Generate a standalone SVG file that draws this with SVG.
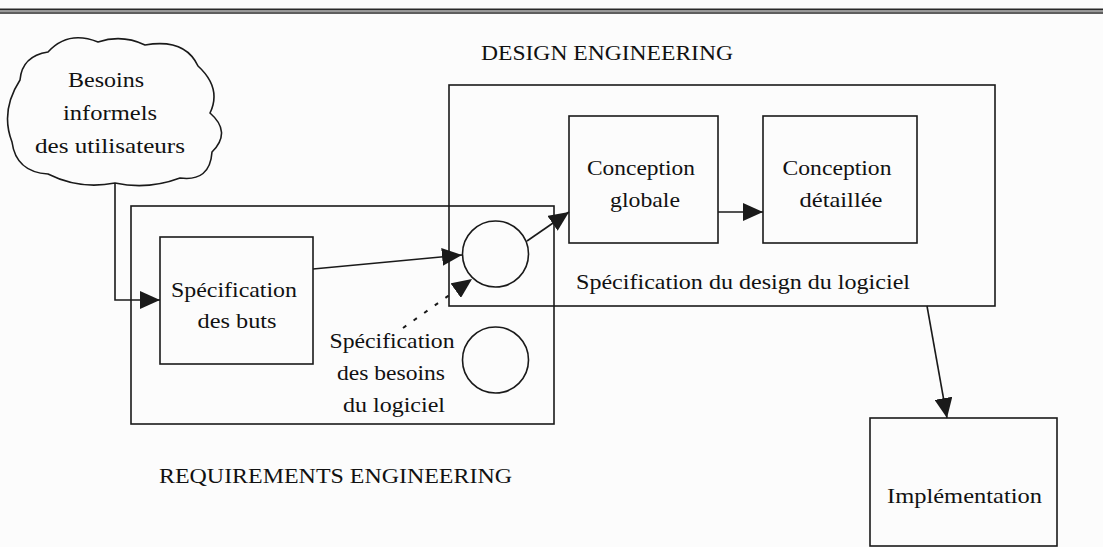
<svg xmlns="http://www.w3.org/2000/svg" width="1103" height="547" viewBox="0 0 1103 547">
  <style>
    .box { fill: none; stroke: #1a1a1a; stroke-width: 1.6; }
    .lbl { font-family: "Liberation Serif", "Times New Roman", serif; font-size: 22px; fill: #111; text-anchor: middle; }
    .cap { font-family: "Liberation Serif", "Times New Roman", serif; font-size: 22px; fill: #111; }
    .wire { fill: none; stroke: #1a1a1a; stroke-width: 1.6; marker-end: url(#head); }
    .dots { stroke-dasharray: 4 9; stroke-width: 2; }
  </style>
  <defs>
    <marker id="head" markerUnits="userSpaceOnUse" markerWidth="20" markerHeight="18" refX="20" refY="9" orient="auto">
      <path d="M0,0 L20,9 L0,18 z" fill="#1a1a1a"/>
    </marker>
  </defs>

  <rect width="1103" height="547" fill="#fcfcfc"/>

  <!-- page rule -->
  <g id="rule">
    <line x1="0" y1="9.5" x2="1103" y2="9.5" stroke="#2a2a2a" stroke-width="2"/>
    <line x1="0" y1="11.2" x2="1103" y2="11.2" stroke="#9a9a9a" stroke-width="1.4"/>
    <line x1="0" y1="12.9" x2="1103" y2="12.9" stroke="#2a2a2a" stroke-width="1.5"/>
  </g>

  <!-- phase titles -->
  <g id="design-title">
    <text class="cap" x="481" y="60" textLength="252" lengthAdjust="spacingAndGlyphs">DESIGN ENGINEERING</text>
  </g>
  <g id="requirements-title">
    <text class="cap" x="159" y="483" textLength="353" lengthAdjust="spacingAndGlyphs">REQUIREMENTS ENGINEERING</text>
  </g>

  <!-- requirements engineering frame -->
  <g id="requirements-frame">
    <rect class="box" x="131" y="206" width="423" height="218"/>
    <text class="lbl" x="392" y="348" textLength="125" lengthAdjust="spacingAndGlyphs">Spécification</text>
    <text class="lbl" x="391" y="380" textLength="108" lengthAdjust="spacingAndGlyphs">des besoins</text>
    <text class="lbl" x="394" y="412" textLength="102" lengthAdjust="spacingAndGlyphs">du logiciel</text>
  </g>

  <!-- design engineering frame -->
  <g id="design-frame">
    <rect class="box" x="449" y="85" width="546" height="221"/>
    <text class="cap" x="576" y="289" textLength="334" lengthAdjust="spacingAndGlyphs">Spécification du design du logiciel</text>
  </g>

  <!-- user needs cloud -->
  <g id="user-needs">
    <path class="box" d="M20 80 Q22 56 48 52 Q68 30 98 42 Q122 34 145 45 Q185 38 198 66 Q222 88 210 113 Q232 132 212 152 Q210 182 180 178 Q148 190 115 183 Q80 190 48 174 Q16 172 12 142 Q0 111 20 80 Z"/>
    <text class="lbl" x="106" y="87" textLength="76" lengthAdjust="spacingAndGlyphs">Besoins</text>
    <text class="lbl" x="110" y="120" textLength="94" lengthAdjust="spacingAndGlyphs">informels</text>
    <text class="lbl" x="110" y="153" textLength="150" lengthAdjust="spacingAndGlyphs">des utilisateurs</text>
  </g>

  <!-- goal specification -->
  <g id="goal-spec">
    <rect class="box" x="160" y="237" width="153" height="127"/>
    <text class="lbl" x="234" y="297" textLength="126" lengthAdjust="spacingAndGlyphs">Spécification</text>
    <text class="lbl" x="237" y="328" textLength="79" lengthAdjust="spacingAndGlyphs">des buts</text>
  </g>

  <!-- requirement circles -->
  <g id="req-circle-1">
    <circle class="box" cx="495.5" cy="254" r="33"/>
  </g>
  <g id="req-circle-2">
    <circle class="box" cx="495.5" cy="360" r="33"/>
  </g>

  <!-- global design -->
  <g id="global-design">
    <rect class="box" x="569" y="116" width="149" height="127"/>
    <text class="lbl" x="641" y="175" textLength="108" lengthAdjust="spacingAndGlyphs">Conception</text>
    <text class="lbl" x="645" y="207" textLength="70" lengthAdjust="spacingAndGlyphs">globale</text>
  </g>

  <!-- detailed design -->
  <g id="detailed-design">
    <rect class="box" x="763" y="116" width="154" height="127"/>
    <text class="lbl" x="837" y="175" textLength="109" lengthAdjust="spacingAndGlyphs">Conception</text>
    <text class="lbl" x="841" y="207" textLength="83" lengthAdjust="spacingAndGlyphs">détaillée</text>
  </g>

  <!-- implementation -->
  <g id="implementation">
    <rect class="box" x="870" y="418" width="187" height="128"/>
    <text class="lbl" x="964.5" y="503" textLength="155" lengthAdjust="spacingAndGlyphs">Implémentation</text>
  </g>

  <!-- connectors -->
  <g id="connectors">
    <polyline class="wire" points="115,183 115,300 160,300"/>
    <line class="wire" x1="313" y1="269" x2="462" y2="255"/>
    <line class="wire dots" x1="403" y1="328" x2="472" y2="279"/>
    <line class="wire" x1="527" y1="241" x2="569" y2="212"/>
    <line class="wire" x1="718" y1="212" x2="763" y2="212"/>
    <line class="wire" x1="927" y1="306" x2="947" y2="418"/>
  </g>
</svg>
